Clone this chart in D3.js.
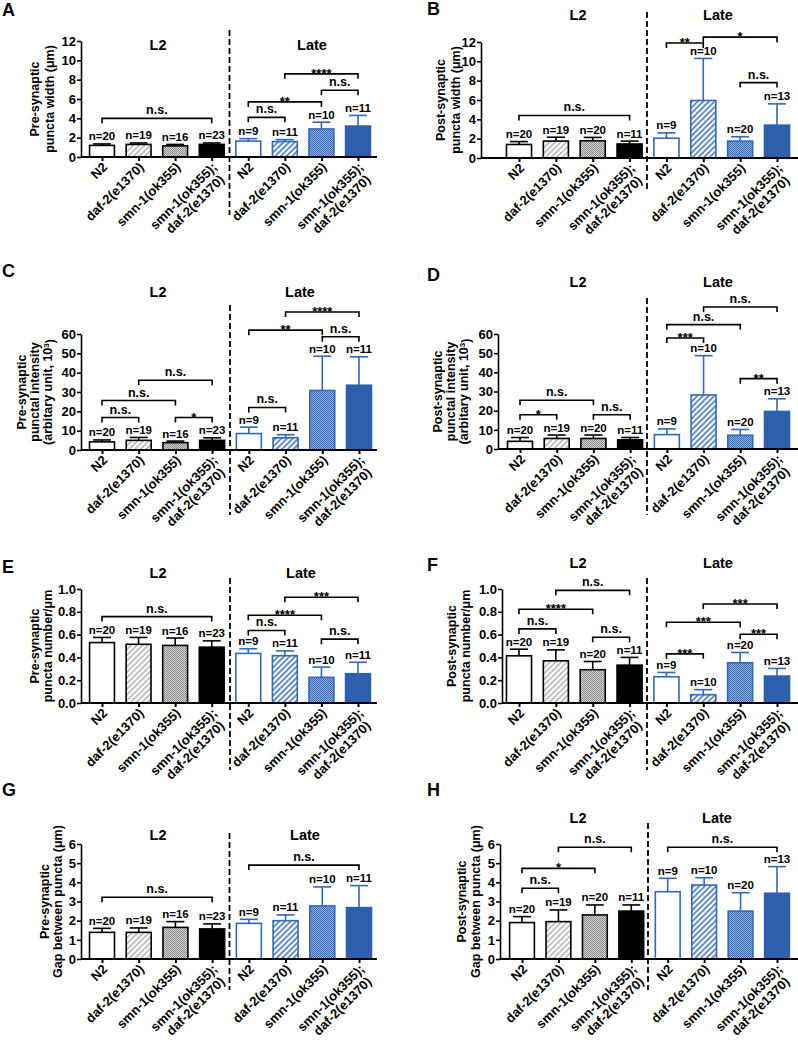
<!DOCTYPE html>
<html><head><meta charset="utf-8">
<script src="https://cdn.jsdelivr.net/npm/d3@7"></script>
<style>
body{margin:0;background:#fff}
svg{display:block}
text{font-family:"Liberation Sans",Arial,Helvetica,sans-serif;font-weight:bold;fill:#000}
</style>
</head><body>
<svg id="chart" width="798" height="1040"></svg>
<script>
// ---------- categories ----------
const stages = ["L2", "Late"];
const genotypes = ["N2", "daf-2(e1370)", "smn-1(ok355)", "smn-1(ok355);|daf-2(e1370)"];
const categories = stages.flatMap(s => genotypes.map(g => s + "|" + g));

// ---------- data (mean, upper error, n) ----------
const meanA = [1.2, 1.3, 1.15, 1.3, 1.65, 1.6, 2.9, 3.2];
const errA  = [0.15, 0.15, 0.15, 0.15, 0.25, 0.2, 0.7, 1.1];
const nA    = [20, 19, 16, 23, 9, 11, 10, 11];
const ticksA = [0, 2, 4, 6, 8, 10, 12];
const sigA = [[0, 3, 4.0, "n.s."], [4, 5, 4.1, "n.s."], [4, 6, 5.7, "**"], [6, 7, 6.9, "n.s."], [5, 7, 8.6, "****"]];
const titleA = ["Pre-synaptic", "puncta width (μm)"];

const meanB = [1.4, 1.75, 1.78, 1.45, 2.05, 5.95, 1.75, 3.4];
const errB  = [0.3, 0.4, 0.35, 0.3, 0.55, 4.35, 0.45, 2.2];
const nB    = [20, 19, 20, 11, 9, 10, 20, 13];
const ticksB = [0, 2, 4, 6, 8, 10, 12];
const sigB = [[0, 3, 4.4, "n.s."], [4, 5, 11.9, "**"], [5, 7, 12.5, "*"], [6, 7, 7.8, "n.s."]];
const titleB = ["Post-synaptic", "puncta width (μm)"];

const meanC = [4.2, 5.0, 3.8, 5.0, 8.5, 6.3, 30.8, 33.5];
const errC  = [1.0, 1.5, 0.8, 1.3, 3.3, 1.6, 17.7, 14.7];
const nC    = [20, 19, 16, 23, 9, 11, 10, 11];
const ticksC = [0, 10, 20, 30, 40, 50, 60];
const sigC = [[0, 1, 16.8, "n.s."], [2, 3, 16.8, "*"], [0, 2, 25.6, "n.s."], [1, 3, 36.1, "n.s."],
              [4, 5, 22, "n.s."], [4, 6, 62, "**"], [6, 7, 58.6, "n.s."], [5, 7, 71.4, "****"]];
const titleC = ["Pre-synaptic", "punctal intensity", "(arbitary unit, 10^3)"];

const meanD = [4.0, 5.5, 5.5, 4.8, 7.5, 28.2, 7.2, 19.6];
const errD  = [2.0, 1.8, 1.8, 1.2, 3.0, 20.5, 3.0, 6.6];
const nD    = [20, 19, 20, 11, 9, 10, 20, 13];
const ticksD = [0, 10, 20, 30, 40, 50, 60];
const sigD = [[0, 1, 17.9, "*"], [0, 2, 25.4, "n.s."], [2, 3, 17.9, "n.s."],
              [4, 5, 57.9, "***"], [4, 6, 64.9, "n.s."], [5, 7, 74.1, "n.s."], [6, 7, 36.7, "**"]];
const titleD = ["Post-synaptic", "punctal intensity", "(arbitary unit, 10^3)"];

const meanE = [0.53, 0.515, 0.505, 0.49, 0.435, 0.415, 0.225, 0.257];
const errE  = [0.045, 0.06, 0.065, 0.055, 0.04, 0.042, 0.09, 0.1];
const nE    = [20, 19, 16, 23, 9, 11, 10, 11];
const ticksE = [0, 0.2, 0.4, 0.6, 0.8, 1.0];
const sigE = [[0, 3, 0.758, "n.s."], [4, 5, 0.636, "n.s."], [4, 6, 0.77, "****"], [5, 7, 0.927, "***"], [6, 7, 0.56, "n.s."]];
const titleE = ["Pre-synaptic", "puncta number/μm"];

const meanF = [0.414, 0.37, 0.292, 0.332, 0.23, 0.073, 0.353, 0.236];
const errF  = [0.058, 0.096, 0.072, 0.068, 0.038, 0.044, 0.09, 0.067];
const nF    = [20, 19, 20, 11, 9, 10, 20, 13];
const ticksF = [0, 0.2, 0.4, 0.6, 0.8, 1.0];
const sigF = [[0, 1, 0.65, "n.s."], [0, 2, 0.822, "****"], [1, 3, 0.988, "n.s."], [2, 3, 0.577, "n.s."],
              [4, 5, 0.431, "***"], [4, 6, 0.708, "***"], [6, 7, 0.603, "***"], [5, 7, 0.869, "***"]];
const titleF = ["Post-synaptic", "puncta number/μm"];

const meanG = [1.39, 1.39, 1.65, 1.57, 1.86, 2.0, 2.77, 2.68];
const errG  = [0.21, 0.23, 0.3, 0.26, 0.21, 0.3, 0.99, 1.15];
const nG    = [20, 19, 16, 23, 9, 11, 10, 11];
const ticksG = [0, 1, 2, 3, 4, 5, 6];
const sigG = [[0, 3, 3.22, "n.s."], [4, 7, 4.9, "n.s."]];
const titleG = ["Pre-synaptic", "Gap between puncta (μm)"];

const meanH = [1.9, 1.95, 2.3, 2.5, 3.51, 3.86, 2.5, 3.43];
const errH  = [0.31, 0.61, 0.52, 0.32, 0.7, 0.38, 0.96, 1.39];
const nH    = [20, 19, 20, 11, 9, 10, 20, 13];
const ticksH = [0, 1, 2, 3, 4, 5, 6];
const sigH = [[0, 1, 3.69, "n.s."], [0, 2, 4.73, "*"], [1, 3, 5.83, "n.s."], [4, 7, 5.83, "n.s."]];
const titleH = ["Post-synaptic", "Gap between puncta (μm)"];

// ---------- layout (positions only) ----------
const layouts = {
  A: {lx: 2,   ly: 16,  ax: 81,  xe: 377, c: [102, 358], y: [157, 41],  sy: 50,  sx: [158, 312], dx: 229.5, dy: [30, 215],  tx: [35, 50]},
  B: {lx: 427, ly: 15,  ax: 481, xe: 798, c: [519, 777], y: [158, 42],  sy: 20,  sx: [578, 718], dx: 647,   dy: [12, 190],  tx: [441, 456]},
  C: {lx: 2,   ly: 277, ax: 81,  xe: 377, c: [102, 359], y: [450, 334], sy: 297, sx: [158, 300], dx: 230,   dy: [305, 515], tx: [22, 35, 48]},
  D: {lx: 427, ly: 281, ax: 498, xe: 798, c: [520, 777], y: [449, 334], sy: 287, sx: [578, 718], dx: 647,   dy: [298, 515], tx: [438, 451, 464]},
  E: {lx: 2,   ly: 573, ax: 81,  xe: 377, c: [102, 358], y: [703, 589], sy: 578, sx: [158, 301], dx: 230,   dy: [578, 770], tx: [35, 48]},
  F: {lx: 427, ly: 571, ax: 502, xe: 798, c: [519, 777], y: [703, 589], sy: 568, sx: [578, 718], dx: 647,   dy: [578, 770], tx: [452, 466]},
  G: {lx: 2,   ly: 796, ax: 81,  xe: 377, c: [102, 359], y: [959, 844], sy: 840, sx: [158, 305], dx: 229.5, dy: [833, 990], tx: [45, 58]},
  H: {lx: 427, ly: 796, ax: 500, xe: 798, c: [522, 777], y: [959, 844], sy: 823, sx: [578, 717], dx: 648,   dy: [823, 990], tx: [462, 476]}
};

const panels = [
  {key: "A", mean: meanA, err: errA, n: nA, ticks: ticksA, sig: sigA, title: titleA, fmt: d3.format("d")},
  {key: "B", mean: meanB, err: errB, n: nB, ticks: ticksB, sig: sigB, title: titleB, fmt: d3.format("d")},
  {key: "C", mean: meanC, err: errC, n: nC, ticks: ticksC, sig: sigC, title: titleC, fmt: d3.format("d")},
  {key: "D", mean: meanD, err: errD, n: nD, ticks: ticksD, sig: sigD, title: titleD, fmt: d3.format("d")},
  {key: "E", mean: meanE, err: errE, n: nE, ticks: ticksE, sig: sigE, title: titleE, fmt: d3.format(".1f")},
  {key: "F", mean: meanF, err: errF, n: nF, ticks: ticksF, sig: sigF, title: titleF, fmt: d3.format(".1f")},
  {key: "G", mean: meanG, err: errG, n: nG, ticks: ticksG, sig: sigG, title: titleG, fmt: d3.format("d")},
  {key: "H", mean: meanH, err: errH, n: nH, ticks: ticksH, sig: sigH, title: titleH, fmt: d3.format("d")}
];

// ---------- styles ----------
const BLUE = "#2c5fae";
const BLUE_LINE = "#3169b8";
const svg = d3.select("#chart");
const defs = svg.append("defs");

function hatch(id, color, w) {
  const p = defs.append("pattern").attr("id", id).attr("patternUnits", "userSpaceOnUse")
    .attr("width", 4).attr("height", 4).attr("patternTransform", "rotate(45)");
  p.append("rect").attr("width", 4).attr("height", 4).attr("fill", "#fff");
  p.append("line").attr("x1", 1).attr("x2", 1).attr("y1", 0).attr("y2", 4).attr("stroke", color).attr("stroke-width", w);
}
function checker(id, bg, fg) {
  const p = defs.append("pattern").attr("id", id).attr("patternUnits", "userSpaceOnUse")
    .attr("width", 2).attr("height", 2);
  p.append("rect").attr("width", 2).attr("height", 2).attr("fill", bg);
  p.append("rect").attr("width", 1).attr("height", 1).attr("fill", fg);
  p.append("rect").attr("x", 1).attr("y", 1).attr("width", 1).attr("height", 1).attr("fill", fg);
}
hatch("hatchGray", "#a8a8a8", 1.4);
hatch("hatchBlue", BLUE_LINE, 1.5);
checker("checkGray", "#d4d4d4", "#8a8a8a");
checker("checkBlue", "#8eaee0", "#3a6cbc");

const fills = ["#fff", "url(#hatchGray)", "url(#checkGray)", "#000", "#fff", "url(#hatchBlue)", "url(#checkBlue)", BLUE];
const strokes = ["#000", "#000", "#000", "#000", BLUE_LINE, BLUE_LINE, BLUE_LINE, BLUE];

// ---------- draw ----------
panels.forEach(p => {
  const L = layouts[p.key];
  const g = svg.append("g");
  const x = d3.scalePoint().domain(categories).range(L.c);
  const y = d3.scaleLinear().domain([0, d3.max(p.ticks)]).range(L.y);
  const bw = x.step() * 0.68;

  // panel letter
  g.append("text").attr("x", L.lx).attr("y", L.ly).attr("font-size", 18).text(p.key);

  // stage titles
  stages.forEach((s, i) => g.append("text").attr("x", L.sx[i]).attr("y", L.sy)
    .attr("text-anchor", "middle").attr("font-size", 14.5).text(s));

  // dashed separator
  g.append("line").attr("x1", L.dx).attr("x2", L.dx).attr("y1", L.dy[0]).attr("y2", L.dy[1])
    .attr("stroke", "#000").attr("stroke-width", 1.8).attr("stroke-dasharray", "6,3");

  // bars
  const data = categories.map((c, i) => ({c, i, m: p.mean[i], e: p.err[i], n: p.n[i]}));
  g.selectAll("rect.bar").data(data).join("rect").attr("class", "bar")
    .attr("x", d => x(d.c) - bw / 2).attr("width", bw)
    .attr("y", d => y(d.m)).attr("height", d => y(0) - y(d.m))
    .attr("fill", d => fills[d.i]).attr("stroke", d => strokes[d.i]).attr("stroke-width", 1.6);

  // error bars (upper only)
  const eb = g.selectAll("g.eb").data(data).join("g").attr("class", "eb")
    .attr("stroke", d => strokes[d.i] === "#000" ? "#000" : BLUE_LINE).attr("stroke-width", 1.6);
  eb.append("line").attr("x1", d => x(d.c)).attr("x2", d => x(d.c))
    .attr("y1", d => y(d.m)).attr("y2", d => y(d.m + d.e));
  eb.append("line").attr("x1", d => x(d.c) - bw * 0.36).attr("x2", d => x(d.c) + bw * 0.36)
    .attr("y1", d => y(d.m + d.e)).attr("y2", d => y(d.m + d.e));

  // n labels
  g.selectAll("text.n").data(data).join("text").attr("class", "n")
    .attr("x", d => x(d.c)).attr("y", d => y(d.m + d.e) - 3.5)
    .attr("text-anchor", "middle").attr("font-size", 11.5).text(d => "n=" + d.n);

  // y axis
  const ya = g.append("g").attr("transform", `translate(${L.ax},0)`)
    .call(d3.axisLeft(y).tickValues(p.ticks).tickFormat(p.fmt).tickSize(4).tickSizeOuter(0));
  ya.attr("font-family", null);
  ya.selectAll("text").attr("font-size", 13).attr("fill", "#000").attr("dx", "0.15em");
  ya.selectAll("line, path").attr("stroke", "#000").attr("stroke-width", 1.6);

  // x axis
  const xa = g.append("g").attr("transform", `translate(0,${L.y[0]})`)
    .call(d3.axisBottom(x).tickSize(4).tickSizeOuter(0).tickFormat(""));
  xa.select(".domain").attr("d", `M${L.ax},0H${L.xe}`);
  xa.selectAll("line, path").attr("stroke", "#000").attr("stroke-width", 2);

  // x labels
  data.forEach(d => {
    const lines = d.c.split("|").slice(1);
    const lg = g.append("g").attr("transform", `translate(${x(d.c) + 6},${L.y[0] + 11}) rotate(-45)`);
    const t1 = lg.append("text").attr("text-anchor", "end").attr("font-size", 13).text(lines[0]);
    if (lines.length > 1) {
      const t2 = lg.append("text").attr("text-anchor", "end").attr("font-size", 13).attr("y", 14).text(lines[1]);
      const l1 = t1.node().getComputedTextLength(), l2 = t2.node().getComputedTextLength();
      t2.attr("x", -(l1 - l2) * 0.3);
    }
  });

  // y title
  p.title.forEach((line, i) => {
    const t = g.append("text").attr("transform", `translate(${L.tx[i]},${(L.y[0] + L.y[1]) / 2}) rotate(-90)`)
      .attr("text-anchor", "middle").attr("dy", "0.35em").attr("font-size", 12.5);
    const parts = line.split("^");
    t.append("tspan").text(parts[0]);
    if (parts.length > 1) {
      t.append("tspan").attr("dy", "-0.45em").attr("font-size", 8).text(parts[1].slice(0, 1));
      t.append("tspan").attr("dy", "0.45em").text(parts[1].slice(1));
    }
  });

  // significance brackets
  p.sig.forEach(([i, j, v, lab]) => {
    const x1 = x(categories[i]), x2 = x(categories[j]), yy = y(v);
    g.append("path").attr("d", `M${x1},${yy + 5}V${yy}H${x2}V${yy + 5}`)
      .attr("fill", "none").attr("stroke", "#000").attr("stroke-width", 1.6);
    const star = lab.startsWith("*");
    g.append("text").attr("x", (x1 + x2) / 2).attr("y", star ? yy + 4 : yy - 4)
      .attr("text-anchor", "middle").attr("font-size", star ? 13 : 12.5).text(lab);
  });
});
</script>
</body></html>
